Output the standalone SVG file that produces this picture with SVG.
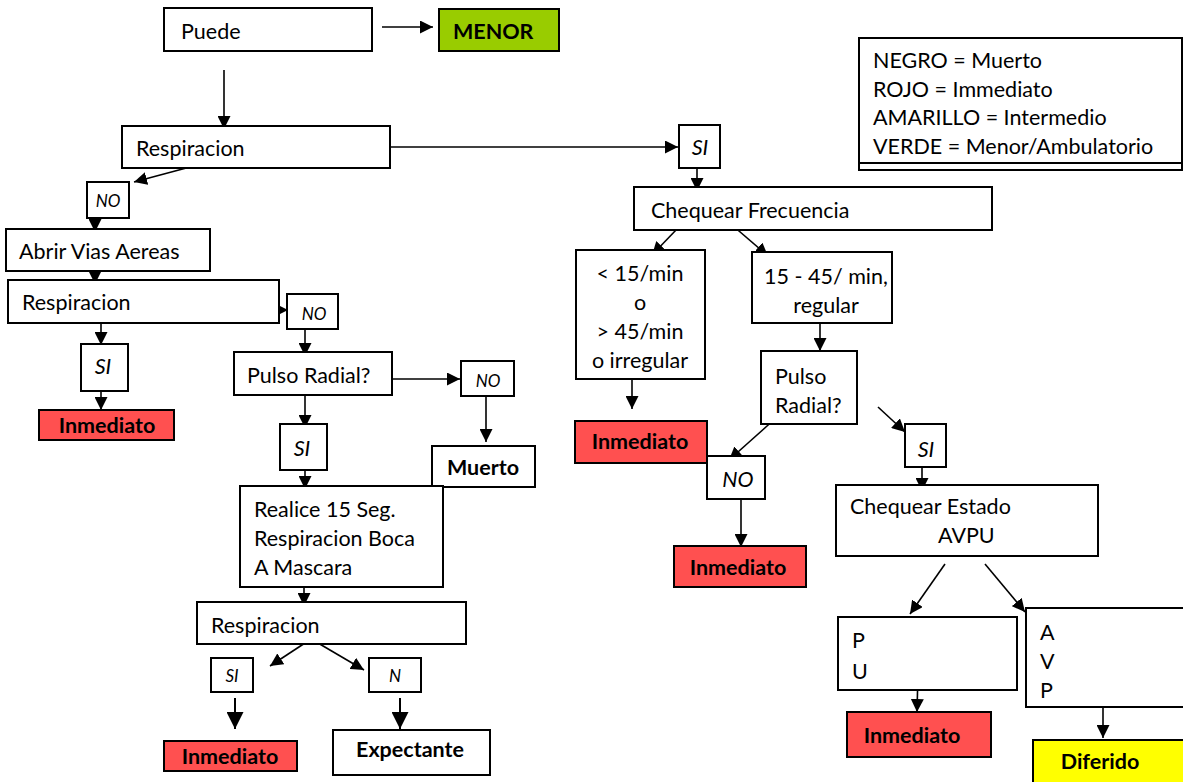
<svg xmlns="http://www.w3.org/2000/svg" width="1183" height="782" viewBox="0 0 1183 782">
  <style>
    .box { fill: #ffffff; stroke: #000; stroke-width: 2; }
    .red { fill: #ff5050; stroke: #000; stroke-width: 2; }
    .green { fill: #99cc00; stroke: #000; stroke-width: 2; }
    .yellow { fill: #ffff00; stroke: #000; stroke-width: 2; }
    text { font-family: Lato, "Open Sans", "Liberation Sans", sans-serif; font-size: 21.5px; fill: #000; }
    .b { font-weight: bold; font-size: 21.5px; }
    .i { font-style: italic; }
    .s { font-size: 17px; }
    .c { text-anchor: middle; }
    .conn line { stroke: #000; stroke-width: 1.6; marker-end: url(#ah); }
    .conn line.big { stroke-width: 2; marker-end: url(#ahBig); }
  </style>
  <defs>
    <marker id="ah" viewBox="0 0 10 10" refX="10" refY="5" markerWidth="13" markerHeight="13" markerUnits="userSpaceOnUse" orient="auto">
      <path d="M0,0 L10,5 L0,10 Z" fill="#000"/>
    </marker>
    <marker id="ahBig" viewBox="0 0 10 10" refX="10" refY="5" markerWidth="17" markerHeight="17" markerUnits="userSpaceOnUse" orient="auto">
      <path d="M0,0 L10,5 L0,10 Z" fill="#000"/>
    </marker>
  </defs>
  <rect width="1183" height="782" fill="#ffffff"/>

  <!-- connectors -->
  <g id="connectors" class="conn">
    <line x1="382" y1="27" x2="433" y2="27"/>
    <line x1="224" y1="70" x2="224" y2="129"/>
    <line x1="390" y1="147" x2="678" y2="147"/>
    <line x1="697" y1="168" x2="697" y2="191"/>
    <line x1="205" y1="163" x2="134" y2="182"/>
    <line x1="95" y1="210" x2="95" y2="232"/>
    <line x1="95" y1="263" x2="95" y2="284"/>
    <line x1="264" y1="310" x2="288" y2="310"/>
    <line x1="101" y1="316" x2="101" y2="345"/>
    <line x1="101" y1="387" x2="101" y2="410"/>
    <line x1="305" y1="320" x2="305" y2="356"/>
    <line x1="392" y1="379" x2="460" y2="379"/>
    <line x1="486" y1="393" x2="486" y2="442"/>
    <line x1="305" y1="390" x2="305" y2="428"/>
    <line x1="305" y1="465" x2="305" y2="489"/>
    <line x1="304" y1="582" x2="304" y2="606"/>
    <line x1="305" y1="643" x2="270" y2="666"/>
    <line x1="318" y1="643" x2="364" y2="670"/>
    <line class="big" x1="235" y1="698" x2="235" y2="729"/>
    <line class="big" x1="400" y1="698" x2="400" y2="729"/>
    <line x1="677" y1="229" x2="652" y2="255"/>
    <line x1="732" y1="225" x2="768" y2="256"/>
    <line x1="632" y1="379" x2="632" y2="409"/>
    <line x1="820" y1="320" x2="820" y2="351"/>
    <line x1="776" y1="418" x2="729" y2="460"/>
    <line x1="878" y1="407" x2="905" y2="432"/>
    <line x1="922" y1="462" x2="922" y2="491"/>
    <line x1="741" y1="495" x2="741" y2="547"/>
    <line x1="945" y1="564" x2="910" y2="614"/>
    <line x1="985" y1="564" x2="1025" y2="612"/>
    <line x1="918" y1="672" x2="917" y2="712"/>
    <line x1="1103" y1="707" x2="1103" y2="738"/>
  </g>

  <!-- legend -->
  <g id="legend">
    <rect class="box" x="859" y="38" width="323" height="132"/>
    <line x1="859" y1="163" x2="1182" y2="163" stroke="#000" stroke-width="2"/>
    <text x="873" y="68">NEGRO = Muerto</text>
    <text x="873" y="97">ROJO = Immediato</text>
    <text x="873" y="125">AMARILLO  = Intermedio</text>
    <text x="873" y="154">VERDE = Menor/Ambulatorio</text>
  </g>

  <g id="puede"><rect class="box" x="164" y="8" width="208" height="43"/><text x="181" y="39">Puede</text></g>
  <g id="menor"><rect class="green" x="439" y="9" width="120" height="42"/><text class="b" x="453" y="39">MENOR</text></g>

  <g id="respiracion1"><rect class="box" x="122" y="126" width="268" height="42"/><text x="136" y="156">Respiracion</text></g>
  <g id="si1"><rect class="box" x="679" y="125" width="41" height="43"/><text class="i c" x="700" y="155">SI</text></g>
  <g id="chequear-frecuencia"><rect class="box" x="634" y="187" width="358" height="43"/><text x="651" y="218">Chequear Frecuencia</text></g>

  <g id="no1"><rect class="box" x="87" y="182" width="42" height="36"/><text class="i s c" x="108" y="207">NO</text></g>
  <g id="abrir"><rect class="box" x="6" y="229" width="204" height="42"/><text x="19" y="259">Abrir Vias Aereas</text></g>
  <g id="respiracion2"><rect class="box" x="8" y="280" width="271" height="43"/><text x="22" y="310">Respiracion</text></g>
  <g id="no2"><rect class="box" x="287" y="294" width="51" height="35"/><text class="i s c" x="314" y="320">NO</text></g>
  <g id="si2"><rect class="box" x="81" y="344" width="47" height="47"/><text class="i c" x="103" y="374">SI</text></g>
  <g id="inmediato1"><rect class="red" x="39" y="410" width="135" height="30"/><text class="b c" x="107" y="433">Inmediato</text></g>

  <g id="pulso1"><rect class="box" x="234" y="352" width="158" height="43"/><text x="247" y="383">Pulso Radial?</text></g>
  <g id="no3"><rect class="box" x="461" y="361" width="53" height="35"/><text class="i s c" x="488" y="387">NO</text></g>
  <g id="muerto"><rect class="box" x="432" y="446" width="103" height="41"/><text class="b c" x="483" y="475">Muerto</text></g>
  <g id="si3"><rect class="box" x="280" y="424" width="47" height="46"/><text class="i c" x="302" y="456">SI</text></g>

  <g id="realice"><rect class="box" x="240" y="486" width="203" height="101"/>
    <text x="254" y="517">Realice 15 Seg.</text>
    <text x="254" y="546">Respiracion Boca</text>
    <text x="254" y="575">A Mascara</text>
  </g>
  <g id="respiracion3"><rect class="box" x="197" y="602" width="269" height="42"/><text x="211" y="633">Respiracion</text></g>
  <g id="si4"><rect class="box" x="211" y="658" width="42" height="34"/><text class="i s c" x="232" y="682">SI</text></g>
  <g id="n"><rect class="box" x="369" y="658" width="52" height="34"/><text class="i s c" x="395" y="682">N</text></g>
  <g id="inmediato3"><rect class="red" x="164" y="741" width="133" height="30"/><text class="b c" x="230" y="764">Inmediato</text></g>
  <g id="expectante"><rect class="box" x="333" y="730" width="157" height="45"/><text class="b c" x="410" y="757">Expectante</text></g>

  <g id="frecuencia-anormal"><rect class="box" x="576" y="250" width="129" height="129"/>
    <text class="c" x="640" y="281">&lt; 15/min</text>
    <text class="c" x="640" y="310">o</text>
    <text class="c" x="640" y="339">&gt; 45/min</text>
    <text class="c" x="640" y="368">o irregular</text>
  </g>
  <g id="frecuencia-normal"><rect class="box" x="752" y="252" width="140" height="71"/>
    <text class="c" x="826" y="284">15 - 45/ min,</text>
    <text class="c" x="826" y="313">regular</text>
  </g>
  <g id="inmediato2"><rect class="red" x="575" y="421" width="132" height="42"/><text class="b c" x="640" y="449">Inmediato</text></g>
  <g id="pulso2"><rect class="box" x="761" y="351" width="96" height="73"/>
    <text x="775" y="384">Pulso</text>
    <text x="775" y="413">Radial?</text>
  </g>
  <g id="no4"><rect class="box" x="707" y="456" width="58" height="43"/><text class="i c" x="738" y="487">NO</text></g>
  <g id="inmediato4"><rect class="red" x="674" y="546" width="132" height="41"/><text class="b c" x="738" y="575">Inmediato</text></g>
  <g id="si5"><rect class="box" x="905" y="424" width="41" height="43"/><text class="i c" x="926" y="457">SI</text></g>
  <g id="chequear-estado"><rect class="box" x="836" y="485" width="262" height="71"/>
    <text x="850" y="514">Chequear Estado</text>
    <text x="938" y="543">AVPU</text>
  </g>
  <g id="pu"><rect class="box" x="838" y="617" width="179" height="73"/>
    <text x="852" y="648">P</text>
    <text x="852" y="679">U</text>
  </g>
  <g id="avp"><rect class="box" x="1026" y="608" width="170" height="99"/>
    <text x="1040" y="640">A</text>
    <text x="1040" y="669">V</text>
    <text x="1040" y="698">P</text>
  </g>
  <g id="inmediato5"><rect class="red" x="847" y="712" width="144" height="45"/><text class="b c" x="912" y="743">Inmediato</text></g>
  <g id="diferido"><rect class="yellow" x="1033" y="740" width="160" height="45"/><text class="b c" x="1100" y="769">Diferido</text></g>
</svg>
